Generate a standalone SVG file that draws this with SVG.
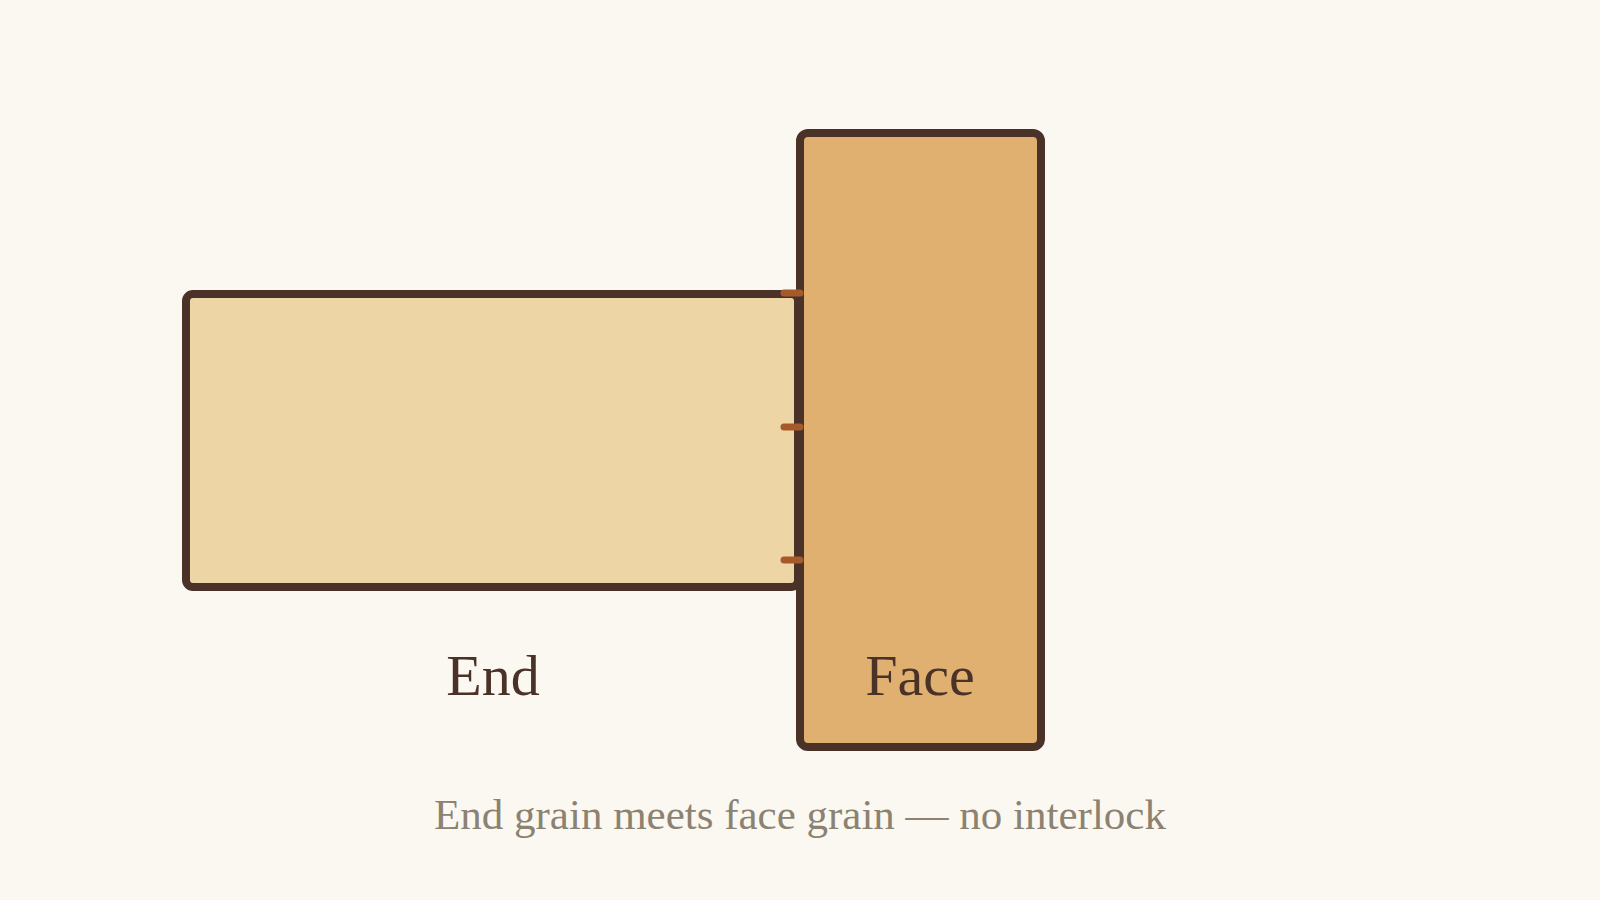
<svg xmlns="http://www.w3.org/2000/svg" width="1600" height="900" viewBox="0 0 1600 900">
<style>
.board{stroke:#4A3228;stroke-width:8}
.label{font-family:"Liberation Serif","DejaVu Serif",serif;fill:#4A3228;font-size:58px;text-anchor:middle}
.caption{font-family:"Liberation Serif","DejaVu Serif",serif;fill:#8C8272;font-size:43px;text-anchor:middle}
.tick{stroke:#A65A2A;stroke-width:7;stroke-linecap:round}
</style>
<rect width="1600" height="900" fill="#FBF8F1"/>
<g id="end-board">
<rect class="board" x="186" y="294" width="612" height="293" rx="7" fill="#EED5A5"/>
<text class="label" x="493" y="695">End</text>
</g>
<g id="face-board">
<rect class="board" x="800" y="133" width="241" height="614" rx="8" fill="#E0B070"/>
<text class="label" x="920" y="695">Face</text>
</g>
<g id="connectors">
<line class="tick" x1="784" y1="293" x2="800" y2="293"/>
<line class="tick" x1="784" y1="427" x2="800" y2="427"/>
<line class="tick" x1="784" y1="560" x2="800" y2="560"/>
</g>
<text class="caption" x="800" y="829">End grain meets face grain — no interlock</text>
</svg>
